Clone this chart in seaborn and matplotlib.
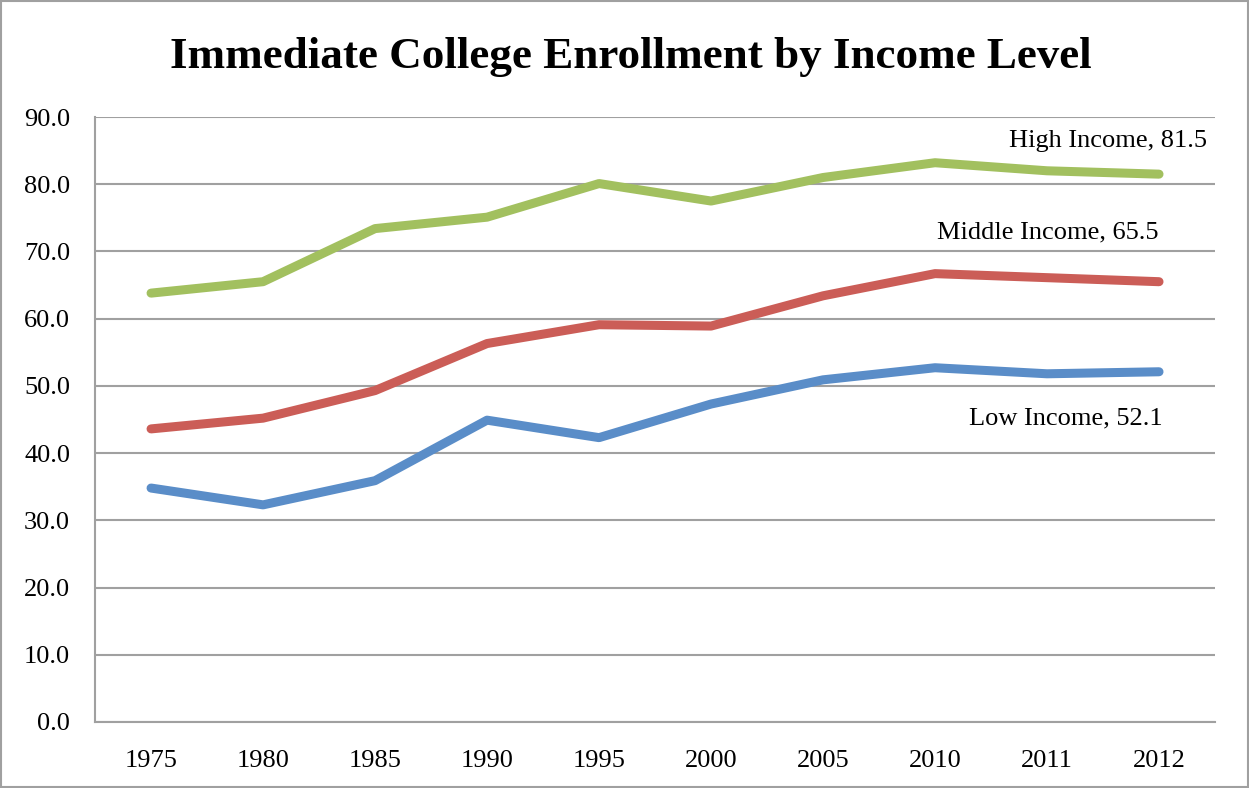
import numpy as np
import pandas as pd
import matplotlib
matplotlib.use('Agg')
import matplotlib.pyplot as plt
import seaborn as sns

# values
years = ['1975', '1980', '1985', '1990', '1995', '2000', '2005', '2010', '2011', '2012']
high = [63.8, 65.5, 73.4, 75.1, 80.1, 77.5, 81.0, 83.2, 82.0, 81.5]
middle = [43.6, 45.2, 49.3, 56.3, 59.1, 58.9, 63.4, 66.7, 66.1, 65.5]
low = [34.8, 32.3, 35.9, 44.9, 42.3, 47.3, 50.9, 52.7, 51.8, 52.1]
series = ['Low Income', 'Middle Income', 'High Income']
colors = ['#5A8DC8', '#CB5D57', '#A2C05F']

# long form table for seaborn
df = pd.DataFrame({
    'pos': list(range(len(years))) * 3,
    'value': low + middle + high,
    'series': [s for s in series for _ in years],
})

sns.set_style('white')
plt.rcParams['font.family'] = ['Liberation Serif', 'DejaVu Serif']
plt.rcParams['text.color'] = 'black'

fig = plt.figure(figsize=(12.49, 7.88), dpi=100)
ax = fig.add_axes([0.0761, 0.0838, 0.8967, 0.7677])

sns.lineplot(data=df, x='pos', y='value', hue='series', hue_order=series,
             palette=colors, linewidth=6.5, legend=False, ax=ax,
             solid_capstyle='round')

ax.set_xlim(-0.5, len(years) - 0.5)
ax.set_ylim(0, 90)
ax.set_yticks(np.arange(0, 91, 10))
ax.set_yticklabels(['%.1f' % v for v in np.arange(0, 91, 10)])
ax.set_xticks(range(len(years)))
ax.set_xticklabels(years)
ax.tick_params(axis='both', labelsize=19, length=0, colors='black')
ax.tick_params(axis='y', pad=18)
ax.tick_params(axis='x', pad=20)
ax.set_xlabel('')
ax.set_ylabel('')

ax.yaxis.grid(True, color='#A0A0A0', linewidth=1.5)
ax.set_axisbelow(True)
for side in ['top', 'right']:
    ax.spines[side].set_visible(False)
for side in ['left', 'bottom']:
    ax.spines[side].set_color('#A0A0A0')
    ax.spines[side].set_linewidth(1.5)

# end labels
ax.text(8.54, 86.5, 'High Income, %.1f' % high[-1], ha='center', va='center', fontsize=19)
ax.text(8.01, 72.9, 'Middle Income, %.1f' % middle[-1], ha='center', va='center', fontsize=19)
ax.text(8.17, 45.2, 'Low Income, %.1f' % low[-1], ha='center', va='center', fontsize=19)

fig.text(0.505, 0.928, 'Immediate College Enrollment by Income Level',
         ha='center', va='center', fontsize=32.5, fontweight='bold')

# outer chart frame
fig.patches.append(plt.Rectangle((0.001, 0.001), 0.998, 0.998, transform=fig.transFigure,
                                 fill=False, edgecolor='#A0A0A0', linewidth=1.5))

fig.savefig('out.png', dpi=100)
